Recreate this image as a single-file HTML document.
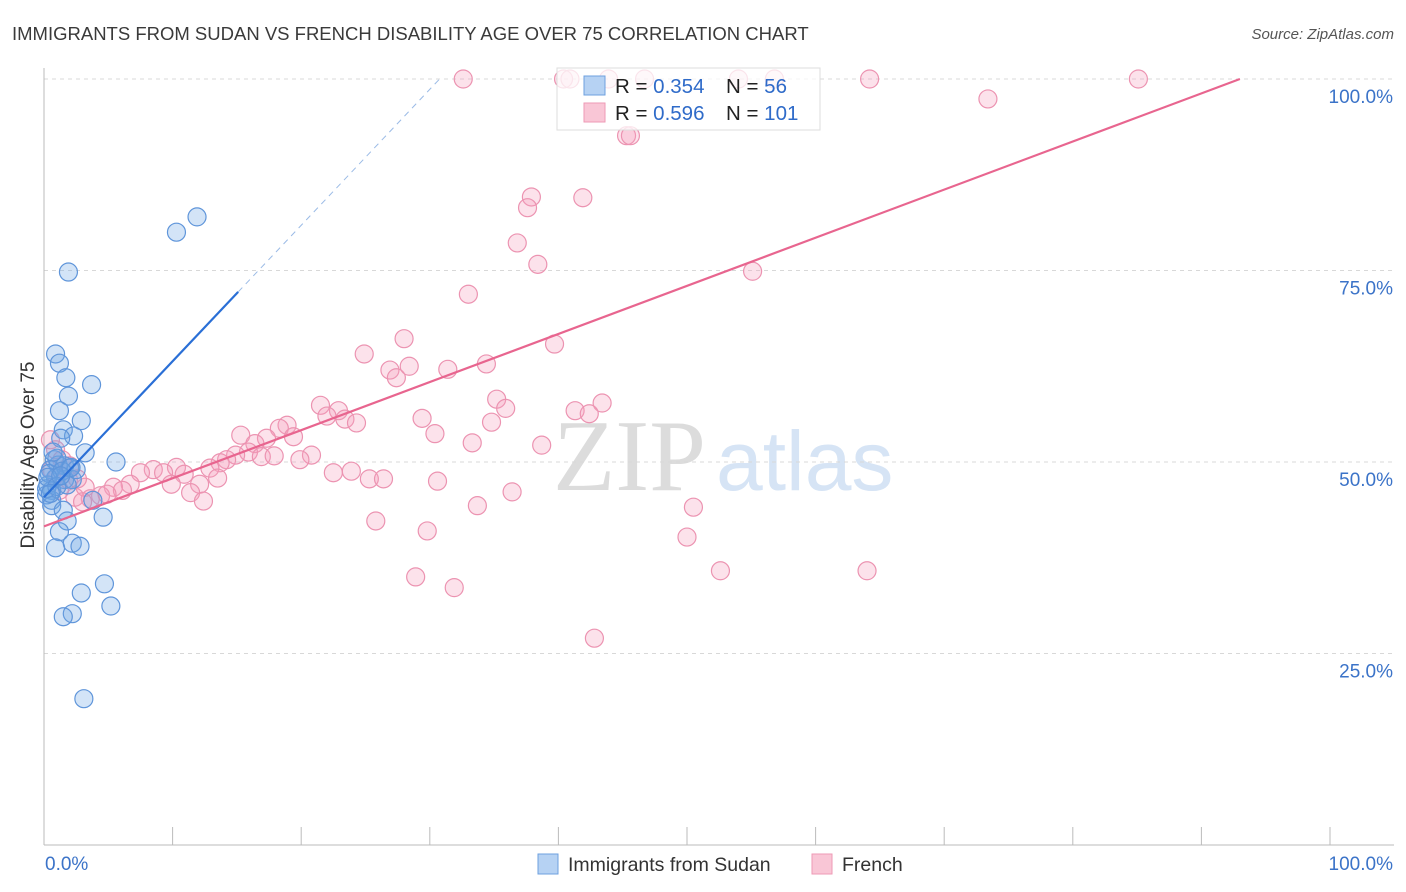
<!DOCTYPE html>
<html><head><meta charset="utf-8"><style>
body{margin:0;background:#fff;width:1406px;height:892px;overflow:hidden;font-family:"Liberation Sans",sans-serif}
svg{display:block}
</style></head><body>
<svg id="chart" width="1406" height="892">
<text x="12" y="40" font-size="18.5" fill="#3a3a3a">IMMIGRANTS FROM SUDAN VS FRENCH DISABILITY AGE OVER 75 CORRELATION CHART</text>
<text x="1394" y="39" font-size="15" fill="#555" font-style="italic" text-anchor="end">Source: ZipAtlas.com</text>
<g>
<text x="553" y="490" font-size="102" font-family="Liberation Serif,serif" fill="#dcdcdc">ZIP</text>
<text x="716" y="490" font-size="84" fill="#d6e4f5">atlas</text>
</g>
<g id="grid"></g>
<g id="axes"></g>
<g id="pts-pink"></g>
<g id="pts-blue"></g>
<g id="trends"></g>
<g>
<rect x="557" y="68" width="263" height="62" fill="#fff" fill-opacity="0.75" stroke="#ddd"/>
<rect x="584" y="76" width="21" height="19" fill="#b6d2f3" stroke="#6ea0df"/>
<rect x="584" y="103" width="21" height="19" fill="#f9c6d6" stroke="#ee9ab5"/>
<text x="615" y="93" font-size="20.5" fill="#222">R = <tspan fill="#2f6bc9">0.354</tspan></text>
<text x="726" y="93" font-size="20.5" fill="#222">N =  <tspan fill="#2f6bc9">56</tspan></text>
<text x="615" y="120" font-size="20.5" fill="#222">R = <tspan fill="#2f6bc9">0.596</tspan></text>
<text x="726" y="120" font-size="20.5" fill="#222">N = <tspan fill="#2f6bc9">101</tspan></text>
</g>
<g>
<rect x="538" y="854" width="20" height="20" fill="#b6d2f3" stroke="#6ea0df"/>
<text x="568" y="871" font-size="19.5" fill="#333">Immigrants from Sudan</text>
<rect x="812" y="854" width="20" height="20" fill="#f9c6d6" stroke="#ee9ab5"/>
<text x="842" y="871" font-size="19.5" fill="#333">French</text>
</g>
<text x="34" y="455" font-size="19" fill="#333" text-anchor="middle" transform="rotate(-90 34 455)">Disability Age Over 75</text>
</svg>
<script>
const yTicks=[25,50,75,100];
const yTickLabels=["25.0%","50.0%","75.0%","100.0%"];
const xTickVals=[0,10,20,30,40,50,60,70,80,90,100];
const blueX=[11.9,10.3,1.9,0.9,1.2,1.7,3.7,1.9,1.2,2.9,1.5,2.3,1.3,3.2,5.6,0.8,1.1,1.6,2.0,0.5,0.9,1.6,2.2,0.3,0.6,0.2,0.6,3.8,0.6,1.5,4.6,1.8,1.2,0.9,2.2,2.8,4.7,2.9,5.2,2.2,1.5,3.1,0.4,1.0,2.5,0.2,1.4,0.7,1.8,0.3,1.0,2.1,0.5,1.3];
const blueY=[82.0,80.0,74.8,64.1,62.9,61.0,60.1,58.6,56.7,55.4,54.2,53.4,53.1,51.2,50.0,50.3,49.6,49.5,49.2,49.0,47.9,47.7,47.7,47.0,46.3,45.7,45.0,45.0,44.3,43.7,42.8,42.3,40.9,38.8,39.4,39.0,34.1,32.9,31.2,30.2,29.8,19.1,48.5,50.5,49.0,46.5,48.8,51.3,47.0,48.0,46.8,49.3,45.9,48.2];
const pinkX=[32.6,40.4,40.9,43.9,46.7,54.0,56.8,64.2,85.1,73.4,45.3,45.6,37.9,41.9,37.6,36.8,38.4,55.1,33.0,28.0,39.7,24.9,34.4,28.4,26.9,31.4,27.4,35.2,35.9,43.4,41.3,42.4,21.5,22.9,22.0,23.4,24.3,29.4,34.8,18.9,18.3,19.4,15.3,17.3,30.4,33.3,38.7,16.4,15.9,14.9,16.9,17.9,20.8,19.9,14.2,13.7,12.9,10.3,8.5,9.3,7.5,10.9,22.5,23.9,25.3,26.4,30.6,13.5,9.9,12.1,6.7,5.4,6.1,11.4,36.4,12.4,33.7,50.5,4.4,4.9,3.6,2.4,3.2,1.9,2.6,1.2,0.6,0.9,0.5,1.4,25.8,29.8,50.0,28.9,52.6,64.0,31.9,42.8,2.0,1.0,3.0];
const pinkY=[100,100,100,100,100,100,100,100,100,97.4,92.6,92.6,84.6,84.5,83.2,78.6,75.8,74.9,71.9,66.1,65.4,64.1,62.8,62.5,62.0,62.1,61.0,58.2,57.0,57.7,56.7,56.3,57.4,56.7,56.0,55.6,55.1,55.7,55.2,54.8,54.4,53.3,53.5,53.1,53.7,52.5,52.2,52.4,51.3,50.9,50.7,50.8,50.9,50.3,50.3,49.9,49.2,49.3,49.0,48.6,48.6,48.4,48.6,48.8,47.8,47.8,47.5,47.9,47.1,47.1,47.1,46.7,46.3,46.0,46.1,44.9,44.3,44.1,45.6,45.8,45.2,45.4,46.7,47.7,47.8,46.3,49.0,51.6,52.9,50.3,42.3,41.0,40.2,35.0,35.8,35.8,33.6,27.0,49.5,48.0,44.8];
const blueTrend=[45.4,1.775];
const pinkTrend=[41.6,0.628];
const X0=44,X1=1330,Y0=845,Y1=79;
const sx=v=>X0+(X1-X0)*v/100, sy=v=>Y0-(Y0-Y1)*v/100;
const NS="http://www.w3.org/2000/svg";
function mk(tag,attrs,parent){const e=document.createElementNS(NS,tag);for(const k in attrs)e.setAttribute(k,attrs[k]);parent.appendChild(e);return e;}
const grid=document.getElementById('grid'),axes=document.getElementById('axes');
yTicks.forEach((t,i)=>{
 const l=mk('line',{x1:X0,x2:1394,y1:sy(t),y2:sy(t),stroke:'#d8d8d8','stroke-dasharray':'4,4'},grid);
 
 
 const tx=mk('text',{x:1393,y:sy(t)+24,'font-size':19,fill:'#3b73c8','text-anchor':'end'},axes);
 tx.textContent=yTickLabels[i];
 
 
});
const ya=mk('line',{x1:X0,x2:X0,y1:68,y2:Y0,stroke:'#bbb'},axes);


const xa=mk('line',{x1:X0,x2:1394,y1:Y0,y2:Y0,stroke:'#bbb'},axes);


xTickVals.forEach(v=>{
 const t=mk('line',{x1:sx(v),x2:sx(v),y1:Y0-18,y2:Y0,stroke:'#bbb'},axes);
 
 
});
const xl0=mk('text',{x:45,y:870,'font-size':19,fill:'#3b73c8'},axes);xl0.textContent='0.0%';


const xl1=mk('text',{x:1393,y:870,'font-size':19,fill:'#3b73c8','text-anchor':'end'},axes);xl1.textContent='100.0%';


const pp=document.getElementById('pts-pink'),pb=document.getElementById('pts-blue');
pinkX.forEach((x,i)=>{const c=mk('circle',{cx:sx(x),cy:sy(pinkY[i]),r:9,fill:'rgba(244,160,190,0.3)',stroke:'#ec93b1','stroke-width':1.2},pp);
 
 });
blueX.forEach((x,i)=>{const c=mk('circle',{cx:sx(x),cy:sy(blueY[i]),r:9,fill:'rgba(110,165,230,0.3)',stroke:'#5f95da','stroke-width':1.2},pb);
 
 });
const tr=document.getElementById('trends');
const bEnd=(100-blueTrend[0])/blueTrend[1];
const b1=mk('line',{x1:sx(0),y1:sy(blueTrend[0]),x2:sx(15.1),y2:sy(blueTrend[0]+blueTrend[1]*15.1),stroke:'#2a6fd6','stroke-width':2.2},tr);


const b2=mk('line',{x1:sx(15.1),y1:sy(blueTrend[0]+blueTrend[1]*15.1),x2:sx(bEnd),y2:sy(100),stroke:'#9bbbe6','stroke-width':1,'stroke-dasharray':'6,5'},tr);


const pEnd=(100-pinkTrend[0])/pinkTrend[1];
const p1=mk('line',{x1:sx(0),y1:sy(pinkTrend[0]),x2:sx(pEnd),y2:sy(100),stroke:'#e8658f','stroke-width':2.2},tr);


</script>
</body></html>
